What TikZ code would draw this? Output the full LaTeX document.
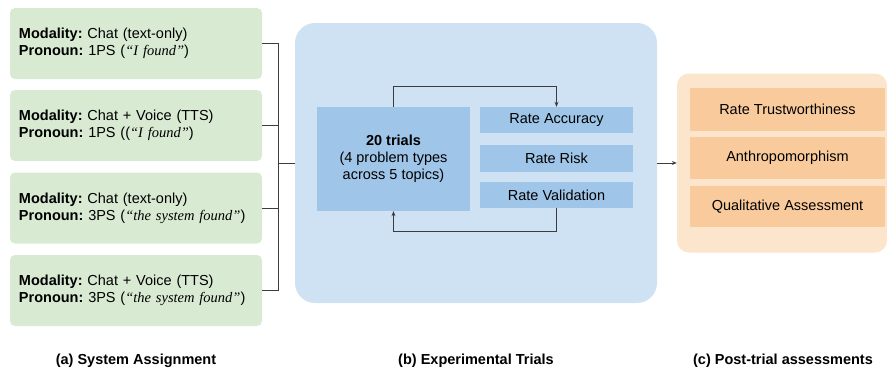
\documentclass[tikz,border=0pt]{standalone}
\usepackage{fontspec}
\setmainfont{Liberation Sans}
\newfontfamily\quotefont{Liberation Serif}
\usetikzlibrary{positioning, arrows.meta}
\frenchspacing

\definecolor{sysgreen}{HTML}{D9EAD3}
\definecolor{trialpanel}{HTML}{CFE2F3}
\definecolor{trialbox}{HTML}{9FC5E8}
\definecolor{postpanel}{HTML}{FCE5CD}
\definecolor{postbox}{HTML}{F9CB9C}
\definecolor{wiregray}{HTML}{3C3C3C}

\newcommand{\said}[1]{{\quotefont\itshape “#1”}}

\tikzset{
  sysbox/.style={rectangle, rounded corners=5pt, fill=sysgreen, minimum height=71pt,
    text width=234pt, inner xsep=9pt, inner ysep=0pt, align=left},
  ratebox/.style={rectangle, fill=trialbox, minimum width=153pt, inner sep=0pt},
  postitem/.style={rectangle, fill=postbox, minimum width=195pt, inner sep=0pt},
  wire/.style={draw=wiregray, line width=0.9pt},
  caption/.style={font=\fontsize{14.5}{17}\selectfont\bfseries}
}

\begin{document}
\begin{tikzpicture}[x=1pt, y=-1pt, >={Stealth[length=5pt,width=4pt]},
    every node/.append style={font=\fontsize{14.5}{17}\selectfont\frenchspacing, text=black}]
        \useasboundingbox (0,0) rectangle (887,370);

        % Bloques de asignacion del sistema
        \node[sysbox] (sys1) at (136,43.5) {\textbf{Modality:} Chat (text-only)\\\textbf{Pronoun:} 1PS (\said{I found})};
        \node[sysbox] (sys2) at (136,125.5) {\textbf{Modality:} Chat + Voice (TTS)\\\textbf{Pronoun:} 1PS ((\said{I found})};
        \node[sysbox] (sys3) at (136,208) {\textbf{Modality:} Chat (text-only)\\\textbf{Pronoun:} 3PS (\said{the system found})};
        \node[sysbox] (sys4) at (136,290.5) {\textbf{Modality:} Chat + Voice (TTS)\\\textbf{Pronoun:} 3PS (\said{the system found})};

        % Panel de ensayos
        \node[rectangle, rounded corners=20pt, fill=trialpanel, minimum width=362pt, minimum height=280pt] (panel) at (476,163) {};
        \node[rectangle, fill=trialbox, minimum width=153pt, minimum height=104pt, align=center] (trials) at (393.5,159)
            {\textbf{20 trials}\\(4 problem types\\across 5 topics)};
        \node[ratebox, minimum height=26pt] (acc) at (556.5,120) {Rate Accuracy};
        \node[ratebox, minimum height=27pt] (risk) at (556.5,158.5) {Rate Risk};
        \node[ratebox, minimum height=26pt] (valid) at (556.5,195) {Rate Validation};

        % Panel posterior
        \node[rectangle, rounded corners=12pt, fill=postpanel, minimum width=210pt, minimum height=179pt] (post) at (782,163) {};
        \node[postitem, minimum height=43pt] (trust) at (787.5,109.5) {Rate Trustworthiness};
        \node[postitem, minimum height=42pt] (anthro) at (787.5,158) {Anthropomorphism};
        \node[postitem, minimum height=41pt] (qual) at (787.5,206.5) {Qualitative Assessment};

        % Conexiones de los bloques al panel
        \coordinate (busTop) at (278,43.5);
        \coordinate (busBot) at (278,290.5);
        \draw[wire] (sys1.east) -- (busTop) -- (busBot) -- (sys4.east);
        \draw[wire] (sys2.east) -- (sys2.east -| busTop);
        \draw[wire] (sys3.east) -- (sys3.east -| busTop);
        \draw[wire] (panel.west -| busTop) -- (panel.west);

        % Bucle de los ensayos
        \draw[wire, ->] (trials.north) -- ++(0,-20) -| (acc.north);
        \draw[wire, ->] (valid.south) -- ++(0,23) -| (trials.south);

        % Flecha hacia las evaluaciones
        \draw[wire, ->] (panel.east) -- (post.west);

        % Titulos
        \node[caption] (capA) at (136,361) {(a) System Assignment};
        \node[caption] (capB) at (476,361) {(b) Experimental Trials};
        \node[caption] (capC) at (783,361) {(c) Post-trial assessments};
    \end{tikzpicture}
\end{document}
